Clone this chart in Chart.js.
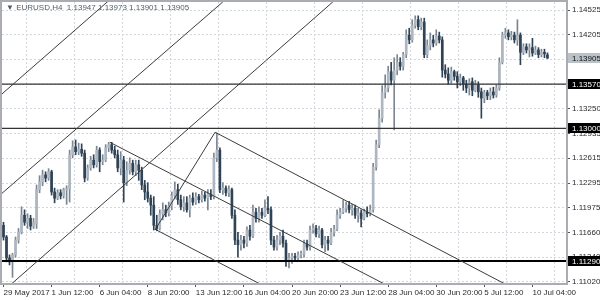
<!DOCTYPE html>
<html>
<head>
<meta charset="utf-8">
<script src="https://cdn.jsdelivr.net/npm/chart.js@4.4.1/dist/chart.umd.min.js"></script>
<style>
  html, body { margin: 0; padding: 0; background: #fff; }
  #wrap { width: 600px; height: 300px; }
</style>
</head>
<body>
<div id="wrap"><canvas id="chart"></canvas></div>
<script>
const symbolTitle = '\u25BC EURUSD,H4  1.13947 1.13973 1.13901 1.13905';

// time axis labels, one every 16 H4 bars
const dateLabels = ['29 May 2017', '1 Jun 12:00', '6 Jun 04:00', '8 Jun 20:00', '13 Jun 12:00', '16 Jun 04:00',
  '20 Jun 20:00', '23 Jun 12:00', '28 Jun 04:00', '30 Jun 20:00', '5 Jul 12:00', '10 Jul 04:00'];

// H4 candles
const openP = [
  1.1175,1.1160,1.1133,1.1128,1.1137,1.1156,1.1166,1.1188,1.1179,1.1184,1.1174,1.1177,1.1221,1.1231,1.1240,1.1236,
  1.1244,1.1218,1.1210,1.1217,1.1213,1.1221,1.1222,1.1266,1.1276,1.1270,1.1273,1.1268,1.1236,1.1249,1.1259,1.1253,
  1.1272,1.1257,1.1259,1.1275,1.1279,1.1272,1.1266,1.1249,1.1259,1.1230,1.1246,1.1255,1.1244,1.1253,1.1246,1.1227,
  1.1218,1.1210,1.1201,1.1175,1.1171,1.1190,1.1195,1.1191,1.1200,1.1213,1.1221,1.1208,1.1199,1.1204,1.1195,1.1210,
  1.1205,1.1212,1.1208,1.1214,1.1210,1.1215,1.1212,1.1262,1.1272,1.1221,1.1223,1.1217,1.1221,1.1188,1.1156,1.1150,
  1.1156,1.1152,1.1169,1.1161,1.1192,1.1184,1.1192,1.1188,1.1197,1.1195,1.1156,1.1147,1.1156,1.1161,1.1152,1.1128,
  1.1133,1.1135,1.1133,1.1137,1.1138,1.1151,1.1147,1.1169,1.1171,1.1164,1.1169,1.1150,1.1156,1.1152,1.1166,1.1170,
  1.1188,1.1192,1.1197,1.1201,1.1195,1.1197,1.1188,1.1191,1.1184,1.1192,1.1190,1.1195,1.1250,1.1279,1.1313,1.1346,
  1.1352,1.1373,1.1362,1.1375,1.1385,1.1380,1.1395,1.1420,1.1414,1.1433,1.1440,1.1431,1.1437,1.1395,1.1407,1.1414,
  1.1410,1.1419,1.1414,1.1375,1.1370,1.1362,1.1373,1.1367,1.1360,1.1365,1.1357,1.1352,1.1360,1.1349,1.1356,1.1347,
  1.1339,1.1346,1.1342,1.1347,1.1343,1.1352,1.1385,1.1420,1.1423,1.1418,1.1420,1.1414,1.1420,1.1398,1.1405,1.1401,
  1.1404,1.1397,1.1401,1.1395,1.1398,1.13947];
const highP = [
  1.1179,1.1162,1.1137,1.1139,1.1160,1.1171,1.1199,1.1195,1.1190,1.1188,1.1184,1.1227,1.1239,1.1246,1.1244,1.1248,
  1.1246,1.1223,1.1221,1.1221,1.1223,1.1226,1.1272,1.1284,1.1285,1.1281,1.1280,1.1272,1.1253,1.1264,1.1266,1.1277,
  1.1275,1.1266,1.1279,1.1282,1.1282,1.1277,1.1272,1.1270,1.1264,1.1257,1.1262,1.1259,1.1259,1.1259,1.1250,1.1233,
  1.1230,1.1214,1.1212,1.1188,1.1195,1.1204,1.1201,1.1205,1.1218,1.1231,1.1228,1.1214,1.1212,1.1212,1.1214,1.1217,
  1.1217,1.1215,1.1219,1.1218,1.1221,1.1221,1.1268,1.1294,1.1275,1.1230,1.1226,1.1226,1.1223,1.1195,1.1166,1.1162,
  1.1161,1.1173,1.1175,1.1201,1.1197,1.1199,1.1197,1.1208,1.1212,1.1199,1.1161,1.1162,1.1166,1.1169,1.1156,1.1139,
  1.1139,1.1139,1.1141,1.1142,1.1156,1.1156,1.1174,1.1177,1.1175,1.1174,1.1171,1.1161,1.1161,1.1171,1.1175,1.1195,
  1.1197,1.1208,1.1205,1.1206,1.1202,1.1201,1.1197,1.1195,1.1196,1.1199,1.1201,1.1255,1.1285,1.1324,1.1355,1.1369,
  1.1380,1.1385,1.1391,1.1395,1.1391,1.1398,1.1427,1.1429,1.1440,1.1445,1.1445,1.1442,1.1442,1.1414,1.1423,1.1420,
  1.1427,1.1424,1.1418,1.1382,1.1378,1.1379,1.1375,1.1373,1.1370,1.1367,1.1362,1.1364,1.1365,1.1362,1.1360,1.1352,
  1.1349,1.1349,1.1352,1.1353,1.1356,1.1391,1.1424,1.1429,1.1427,1.1425,1.1424,1.1440,1.1423,1.1409,1.1409,1.1409,
  1.1416,1.1406,1.1404,1.1402,1.1402,1.13973];
const lowP = [
  1.1156,1.1128,1.1124,1.1108,1.1134,1.1152,1.1164,1.1175,1.1171,1.1169,1.1171,1.1171,1.1217,1.1226,1.1231,1.1233,
  1.1214,1.1204,1.1208,1.1209,1.1210,1.1202,1.1205,1.1262,1.1266,1.1266,1.1264,1.1231,1.1233,1.1246,1.1249,1.1250,
  1.1244,1.1253,1.1257,1.1270,1.1268,1.1262,1.1244,1.1240,1.1205,1.1226,1.1241,1.1240,1.1239,1.1233,1.1221,1.1208,
  1.1205,1.1188,1.1169,1.1168,1.1169,1.1182,1.1186,1.1187,1.1195,1.1209,1.1202,1.1195,1.1193,1.1192,1.1186,1.1201,
  1.1202,1.1204,1.1205,1.1206,1.1195,1.1208,1.1209,1.1257,1.1217,1.1215,1.1213,1.1212,1.1184,1.1150,1.1134,1.1143,
  1.1146,1.1148,1.1156,1.1159,1.1179,1.1179,1.1184,1.1186,1.1190,1.1150,1.1143,1.1143,1.1150,1.1147,1.1122,1.1120,
  1.1126,1.1129,1.1130,1.1133,1.1134,1.1143,1.1143,1.1165,1.1160,1.1159,1.1146,1.1141,1.1143,1.1150,1.1161,1.1168,
  1.1184,1.1190,1.1192,1.1191,1.1188,1.1184,1.1179,1.1173,1.1182,1.1186,1.1187,1.1192,1.1246,1.1275,1.1308,1.1339,
  1.1347,1.1356,1.1298,1.1369,1.1375,1.1375,1.1391,1.1409,1.1411,1.1429,1.1427,1.1427,1.1391,1.1391,1.1401,1.1405,
  1.1407,1.1410,1.1366,1.1365,1.1357,1.1358,1.1362,1.1352,1.1355,1.1349,1.1346,1.1343,1.1342,1.1347,1.1340,1.1313,
  1.1333,1.1337,1.1337,1.1339,1.1340,1.1349,1.1383,1.1416,1.1414,1.1414,1.1410,1.1407,1.1382,1.1395,1.1397,1.1392,
  1.1393,1.1395,1.1391,1.1392,1.1391,1.13901];
const closeP = [
  1.1160,1.1133,1.1128,1.1137,1.1156,1.1166,1.1188,1.1179,1.1184,1.1174,1.1179,1.1221,1.1231,1.1240,1.1236,1.1244,
  1.1218,1.1210,1.1217,1.1213,1.1221,1.1222,1.1266,1.1276,1.1270,1.1273,1.1268,1.1236,1.1249,1.1259,1.1253,1.1272,
  1.1257,1.1259,1.1275,1.1279,1.1272,1.1266,1.1249,1.1259,1.1230,1.1246,1.1255,1.1244,1.1253,1.1246,1.1227,1.1218,
  1.1210,1.1201,1.1175,1.1171,1.1190,1.1195,1.1191,1.1200,1.1213,1.1221,1.1208,1.1199,1.1204,1.1195,1.1210,1.1205,
  1.1212,1.1208,1.1214,1.1210,1.1215,1.1212,1.1262,1.1272,1.1221,1.1223,1.1217,1.1221,1.1188,1.1156,1.1150,1.1156,
  1.1152,1.1169,1.1161,1.1192,1.1184,1.1192,1.1188,1.1197,1.1195,1.1156,1.1147,1.1156,1.1161,1.1152,1.1128,1.1133,
  1.1135,1.1133,1.1137,1.1138,1.1151,1.1147,1.1169,1.1171,1.1164,1.1169,1.1150,1.1156,1.1152,1.1166,1.1170,1.1188,
  1.1192,1.1197,1.1201,1.1195,1.1197,1.1188,1.1191,1.1184,1.1192,1.1190,1.1195,1.1250,1.1279,1.1313,1.1346,1.1352,
  1.1373,1.1362,1.1375,1.1385,1.1380,1.1395,1.1420,1.1414,1.1433,1.1440,1.1431,1.1437,1.1395,1.1407,1.1414,1.1410,
  1.1419,1.1414,1.1375,1.1370,1.1362,1.1373,1.1367,1.1360,1.1365,1.1357,1.1352,1.1360,1.1349,1.1356,1.1347,1.1339,
  1.1346,1.1342,1.1347,1.1343,1.1352,1.1385,1.1420,1.1423,1.1418,1.1420,1.1414,1.1420,1.1398,1.1405,1.1401,1.1404,
  1.1397,1.1401,1.1395,1.1398,1.1396,1.13905];

const priceTicks = [1.14525, 1.14205, 1.13885, 1.13565, 1.13250, 1.12935, 1.12615, 1.12295, 1.11975, 1.11660, 1.11340, 1.11020];
const priceLevels = [1.13570, 1.13000, 1.11290];
const lastPrice = 1.13905;

// drawn trendlines: [bar index, price, bar index, price]
const trendLines = [
  [-1.2, 1.1342, 39, 1.1478],
  [-1.2, 1.1214, 73, 1.1463],
  [2.2, 1.1098, 109.6, 1.1463],
  [35.4, 1.1282, 135, 1.1083],
  [50.4, 1.1170, 95, 1.1080],
  [70.4, 1.1295, 175, 1.1083],
  [50.4, 1.1169, 70.4, 1.1295]
];

const SLOTS = 188;
const BULL = '#aeb6bf', BEAR = '#2f4356';
const isUp = openP.map((o, i) => closeP[i] >= o);

const datasets = [];
trendLines.forEach(t => datasets.push({
  type: 'line', data: [{x: t[0], y: t[1]}, {x: t[2], y: t[3]}],
  borderColor: '#3c3c3c', borderWidth: 1, pointRadius: 0, order: 0
}));
priceLevels.forEach((lv, k) => datasets.push({
  type: 'line', data: [{x: -0.5, y: lv}, {x: SLOTS - 0.5, y: lv}],
  borderColor: k === 2 ? '#000' : '#333', borderWidth: k === 2 ? 2 : 1.2, pointRadius: 0, order: 0
}));
datasets.push({
  type: 'bar', grouped: false, order: 2,
  data: highP.map((h, i) => ({x: i, y: [lowP[i], h]})),
  backgroundColor: isUp.map(u => u ? '#7b8692' : BEAR),
  barThickness: 1
});
datasets.push({
  type: 'bar', grouped: false, order: 1,
  data: openP.map((o, i) => ({x: i, y: [o, closeP[i]]})),
  backgroundColor: isUp.map(u => u ? BULL : BEAR),
  barThickness: 2, minBarLength: 1
});

const FONT = {family: 'Liberation Sans', size: 8};

const overlay = {
  id: 'overlay',
  afterDraw(chart) {
    const {ctx, chartArea: a, scales} = chart;
    ctx.save();
    ctx.strokeStyle = '#a9adb1';
    ctx.lineWidth = 2;
    ctx.strokeRect(a.left - 1, a.top - 1, a.right - a.left + 1, a.bottom - a.top + 1);

    ctx.font = '8px "Liberation Sans"';
    ctx.textBaseline = 'middle';
    ctx.fillStyle = '#50606e';
    ctx.fillText(symbolTitle, 6, 8);

    const boxes = [[lastPrice, '#b9c1c9', '#111']].concat(priceLevels.map(v => [v, '#000', '#fff']));
    boxes.forEach(([v, bg, fg]) => {
      const y = Math.round(scales.y.getPixelForValue(v));
      ctx.fillStyle = bg;
      ctx.fillRect(a.right + 1, y - 5, 600 - a.right - 1, 10);
      ctx.fillStyle = fg;
      ctx.fillText(v.toFixed(5), a.right + 5, y + 0.5);
    });
    ctx.restore();
  }
};

new Chart(document.getElementById('chart'), {
  type: 'bar',
  data: {datasets},
  options: {
    responsive: true,
    maintainAspectRatio: false,
    animation: false,
    devicePixelRatio: 1,
    layout: {padding: {left: 2, top: 2, right: 0, bottom: 0}},
    plugins: {legend: {display: false}, tooltip: {enabled: false}},
    scales: {
      x: {
        type: 'linear', min: -0.5, max: SLOTS - 0.5, offset: false,
        afterBuildTicks: s => {
          const t = [];
          dateLabels.forEach((d, k) => { t.push({value: k * 16}); t.push({value: k * 16 + 7.5}); });
          s.ticks = t;
        },
        afterFit: s => { s.height = 16; s.paddingLeft = 0; s.paddingRight = 0; },
        grid: {
          offset: false, tickLength: 3,
          color: c => c.tick && c.tick.value % 16 === 0 ? 'rgba(0,0,0,0)' : '#d3d7db',
          tickColor: c => c.tick && c.tick.value % 16 === 0 ? '#555' : 'rgba(0,0,0,0)'
        },
        border: {display: false, dash: [2, 2]},
        ticks: {
          autoSkip: false, maxRotation: 0, align: 'start', padding: 1, color: '#2a2a2a', font: FONT,
          callback: v => v % 16 === 0 ? dateLabels[v / 16] : ''
        }
      },
      y: {
        type: 'linear', position: 'right', min: 1.109942, max: 1.146281,
        afterBuildTicks: s => { s.ticks = priceTicks.map(v => ({value: v})); },
        afterFit: s => { s.width = 33; s.paddingTop = 0; s.paddingBottom = 0; },
        grid: {color: '#d3d7db', tickLength: 3, tickColor: '#555'},
        border: {display: false, dash: [2, 2]},
        ticks: {padding: 2, color: '#2a2a2a', font: FONT, callback: v => v.toFixed(5)}
      }
    }
  },
  plugins: [overlay]
});
</script>
</body>
</html>
